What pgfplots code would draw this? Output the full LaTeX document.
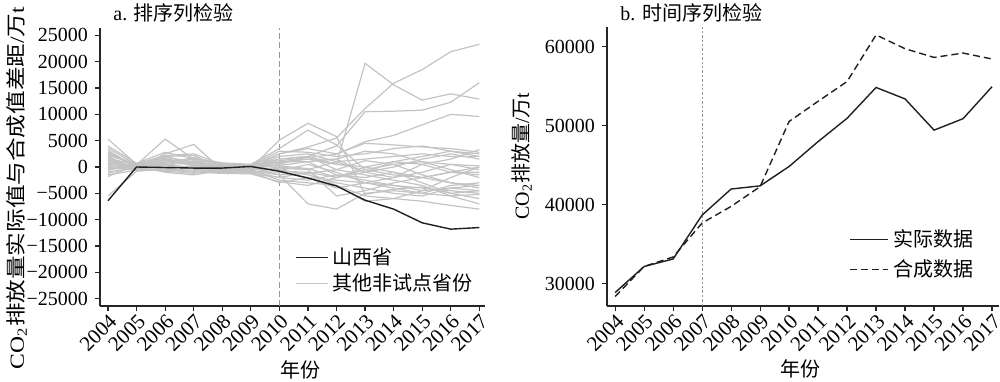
\documentclass[border=0pt]{standalone}
\usepackage{fontspec}
\setmainfont{Liberation Serif}
\newfontfamily\cjk{Noto Sans CJK SC}
\usepackage{graphicx}
\usepackage{pgfplots}
\pgfplotsset{compat=1.18}
\usepackage{pgfplotstable}

\definecolor{gline}{RGB}{195,195,195}
\definecolor{sx}{RGB}{35,30,30}
\definecolor{vline}{RGB}{150,150,150}

\pgfplotstableread{
year g1 g2 g3 g4 g5 g6 g7 g8 g9 g10 g11 g12 g13 g14 g15 g16 g17 g18 g19 g20 g21 g22 g23 g24 g25 g26 g27 g28
2004 5300 3600 3200 2800 2500 2000 1500 1200 1000 800 500 300 0 -300 -600 -900 -1200 -1500 -1800 -5500 4000 1800 700 2200 -400 1400 2700 -100
2005 500 400 -200 300 200 -300 600 -500 300 -200 100 -400 200 -100 500 -300 100 -600 400 -800 700 -700 0 600 -200 -100 200 300
2006 -300 5300 2500 2000 1800 1500 1200 800 600 400 -200 -600 -1000 1000 300 700 -300 200 900 -400 2800 -500 1300 2200 -800 1600 500 2000
2007 200 1500 4300 2200 1000 800 600 500 -200 -400 0 -800 -1500 400 1200 1800 300 -300 1500 -600 1600 -1000 900 2500 -1200 300 -300 700
2008 -400 -300 -600 -200 200 -500 300 -800 -200 -1000 100 -400 -600 100 -200 600 -900 -500 400 -1100 800 -1200 -100 500 -300 -700 0 -400
2009 -200 200 -300 100 -100 -400 200 -600 -300 -800 -100 -1200 -500 300 0 400 -700 -900 -200 -1000 500 -1300 -500 300 100 -800 200 -100
2010 5100 1500 2500 1500 1200 800 2500 0 -500 -1000 -1500 -2000 -2500 300 -800 1000 -1500 -3000 2000 -200 3500 -2800 500 3000 -700 -2000 200 1000
2011 8300 2000 3800 2000 1800 1500 3500 -500 -1500 -2000 -7000 -2500 -3000 1000 -1000 1500 -1200 -2000 2500 -500 7000 -3500 2000 2800 500 -1000 -300 1000
2012 5800 500 5500 4000 2400 1500 2500 1000 -3000 -2500 -8000 -1500 -3500 -1500 -2000 500 -500 -4000 1000 -5500 4200 -2000 -500 2000 -1000 -3500 -2000 1500
2013 -5200 19700 11100 10500 4800 -1000 4500 1500 -4000 -3000 -5000 -2000 -6500 -2500 -1000 0 -1500 -3000 -1000 -4500 -500 -500 1200 2500 -3000 -5500 0 3000
2014 -4200 15600 15900 10600 6000 -2000 4200 2000 -5000 -3500 -4500 -1000 -6000 -3500 0 -1000 -2500 -2000 1000 -3000 -1500 500 500 3500 -4000 -6000 1000 2500
2015 -3800 12700 18500 10800 8000 500 3800 2500 -5500 -4000 -5000 -2000 -6500 -4500 1500 -3000 -3500 -1000 2000 -2000 -2000 1000 -1500 4000 -5000 -4500 500 1000
2016 -5000 13900 21900 12300 10000 1500 3500 2000 -4000 -4500 -5500 -3000 -7300 -2000 2500 -5000 -5500 500 3000 -1000 -1000 -500 -3000 3000 -3500 -4000 -1000 500
2017 -4500 12900 23300 16000 9600 3300 2800 2000 -3500 -5000 -5200 -3500 -8000 0 1500 -6000 -7000 -500 2500 -1000 0 -2000 -4000 2000 -3000 -4500 -1500 200
}\greydata

\pgfplotstableread{
year gap
2004 -6400
2005 0
2006 -100
2007 -200
2008 -200
2009 100
2010 -800
2011 -2100
2012 -3600
2013 -6300
2014 -8000
2015 -10600
2016 -11800
2017 -11500
}\shanxi

\pgfplotstableread{
year real synth
2004 28900 28400
2005 32200 32200
2006 33150 33400
2007 38700 37700
2008 42000 39800
2009 42400 42300
2010 44850 50550
2011 48000 53100
2012 50950 55600
2013 54850 61500
2014 53400 59750
2015 49450 58650
2016 50900 59200
2017 54950 58450
}\tsdata

\begin{document}
\begin{tikzpicture}[font=\fontsize{10}{12}\selectfont]
\useasboundingbox (0,0) rectangle (500pt,190.5pt);
\pgfplotsset{
  myax/.style={
    scale only axis,
    anchor=south west,
    scaled ticks=false,
    axis x line*=bottom, axis y line*=left,
    tick align=outside, major tick length=2.5pt,
    axis line style={line width=0.6pt, black!85},
    tick style={line width=0.6pt, black!85},
    tick label style={font=\fontsize{10}{12}\selectfont},
    xtick={2004,2005,2006,2007,2008,2009,2010,2011,2012,2013,2014,2015,2016,2017},
    xticklabels={2004,2005,2006,2007,2008,2009,2010,2011,2012,2013,2014,2015,2016,2017},
    xticklabel style={rotate=45, anchor=north east, inner sep=0.5pt, font=\fontsize{10.5}{12}\selectfont},
    legend cell align=left,
  }
}
% ---- panel a
\begin{axis}[myax,
  at={(50pt,37.5pt)}, width=192.5pt, height=139pt,
  xmin=2003.72, xmax=2017.2, ymin=-26400, ymax=26400,
  ytick={-25000,-20000,-15000,-10000,-5000,0,5000,10000,15000,20000,25000},
  yticklabels={−25000,−20000,−15000,−10000,−5000,0,5000,10000,15000,20000,25000},
  legend style={at={(0.505,0.225)}, anchor=north west, draw=none, fill=none,
    inner sep=0pt, row sep=-1pt, font=\fontsize{10}{12}\selectfont},
  legend image code/.code={\draw[#1] (0pt,0pt) -- (16pt,0pt);},
]
\addplot[vline, line width=0.7pt, dash pattern=on 3pt off 1.6pt, forget plot] coordinates {(2010,-26400) (2010,26400)};
\pgfplotsinvokeforeach{1,...,28}{
  \addplot[gline, line width=0.6pt, forget plot] table[x=year, y=g#1]{\greydata};
}
\addplot[sx, line width=0.7pt] table[x=year, y=gap]{\shanxi};
\addlegendentry{\cjk 山西省}
\addlegendimage{gline, line width=0.6pt}
\addlegendentry{\cjk 其他非试点省份}
\end{axis}
% ---- panel b
\begin{axis}[myax,
  at={(303.5pt,37.5pt)}, width=196pt, height=139.5pt,
  xmin=2003.72, xmax=2017.24, ymin=27200, ymax=62500,
  ytick={30000,40000,50000,60000},
  yticklabels={30000,40000,50000,60000},
  legend style={at={(0.618,0.29)}, anchor=north west, draw=none, fill=none,
    inner sep=0pt, row sep=1pt, font=\fontsize{10}{12}\selectfont},
  legend image code/.code={\draw[#1] (0pt,0pt) -- (19pt,0pt);},
]
\addplot[vline, line width=0.6pt, dash pattern=on 1.2pt off 1pt, forget plot] coordinates {(2007,27200) (2007,62500)};
\addplot[sx, line width=0.7pt] table[x=year, y=real]{\tsdata};
\addlegendentry{\cjk 实际数据}
\addplot[sx, line width=0.7pt, dash pattern=on 3.5pt off 2pt] table[x=year, y=synth]{\tsdata};
\addlegendentry{\cjk 合成数据}
\end{axis}
% ---- titles and labels
\node[anchor=west, inner sep=0pt] at (56.5pt,184pt) {a. {\cjk 排序列检验}};
\node[anchor=west, inner sep=0pt] at (310pt,184pt) {b. {\cjk 时间序列检验}};
\node[inner sep=0pt] at (150pt,5.5pt) {\cjk 年份};
\node[inner sep=0pt] at (400pt,6pt) {\cjk 年份};
\node[rotate=90, inner sep=0pt] at (8.5pt,96.5pt) {\scalebox{1.18}[1]{CO\textsubscript{2}{\cjk 排放量实际值与合成值差距}/{\cjk 万}t}};
\node[rotate=90, inner sep=0pt] at (261pt,112.5pt) {CO\textsubscript{2}{\cjk 排放量}/{\cjk 万}t};
\end{tikzpicture}
\end{document}
